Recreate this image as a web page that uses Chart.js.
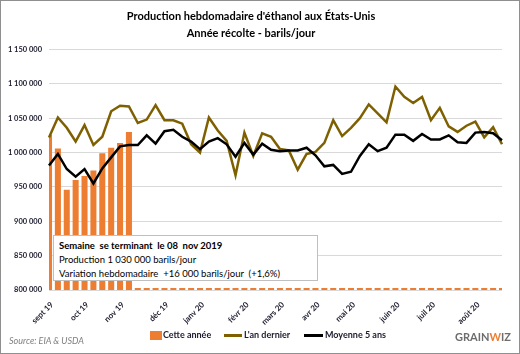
<!DOCTYPE html>
<html lang="fr">
<head>
<meta charset="utf-8">
<script src="https://cdn.jsdelivr.net/npm/chart.js@4.4.1/dist/chart.umd.min.js"></script>
<style>
  body { margin: 0; background: #fff; }
  #wrap { position: relative; width: 520px; height: 354px; font-family: Lato, 'Open Sans', sans-serif; }
  #chart { position: absolute; left: 0; top: 0; }
  #cadre { position: absolute; left: 0; top: 0; width: 520px; height: 354px; box-sizing: border-box; border: 1px solid #8f8f8f; pointer-events: none; }
  #encadre { position: absolute; left: 53px; top: 235px; width: 265px; height: 46px; box-sizing: border-box; background: #fff; border: 1px solid #bfbfbf; padding: 3px 0 0 5px; font-size: 9.5px; line-height: 14px; color: #000; white-space: pre; }
  #encadre b { font-weight: bold; }
  .leg { position: absolute; top: 329px; font-size: 9px; font-weight: bold; color: #1b1b2e; line-height: 12px; white-space: nowrap; }
  .sw { position: absolute; }
  #source { position: absolute; left: 9px; top: 335px; font-size: 9px; font-style: italic; color: #7f7f7f; }
  #logo { position: absolute; left: 455px; top: 330px; font-size: 11px; font-weight: bold; color: #6d6d6d; letter-spacing: 0; }
  #logo span { color: #ed7d31; }
</style>
</head>
<body>
<div id="wrap">
  <canvas id="chart" width="520" height="354"></canvas>
  <div id="encadre"><b>Semaine  se terminant  le 08  nov 2019</b>
Production 1 030 000 barils/jour
Variation hebdomadaire  +16 000 barils/jour  (+1,6%)</div>
  <div class="sw" style="left:150px;top:331px;width:12px;height:9px;background:#ed7d31"></div>
  <div class="leg" style="left:163px">Cette année</div>
  <div class="sw" style="left:224px;top:334px;width:18px;height:2.5px;background:#7f6000"></div>
  <div class="leg" style="left:244px">L'an dernier</div>
  <div class="sw" style="left:304px;top:334px;width:19px;height:2.5px;background:#000"></div>
  <div class="leg" style="left:325px">Moyenne 5 ans</div>
  <div id="source">Source: EIA &amp; USDA</div>
  <div id="logo">GRAIN<span>W</span>IZ</div>
  <div id="cadre"></div>
</div>
<script>
// semaines se terminant le vendredi
const semaines = [
  '2019-09-06', '2019-09-13', '2019-09-20', '2019-09-27',
  '2019-10-04', '2019-10-11', '2019-10-18', '2019-10-25',
  '2019-11-01', '2019-11-08', '2019-11-15', '2019-11-22', '2019-11-29',
  '2019-12-06', '2019-12-13', '2019-12-20', '2019-12-27',
  '2020-01-03', '2020-01-10', '2020-01-17', '2020-01-24', '2020-01-31',
  '2020-02-07', '2020-02-14', '2020-02-21', '2020-02-28',
  '2020-03-06', '2020-03-13', '2020-03-20', '2020-03-27',
  '2020-04-03', '2020-04-10', '2020-04-17', '2020-04-24',
  '2020-05-01', '2020-05-08', '2020-05-15', '2020-05-22', '2020-05-29',
  '2020-06-05', '2020-06-12', '2020-06-19', '2020-06-26',
  '2020-07-03', '2020-07-10', '2020-07-17', '2020-07-24', '2020-07-31',
  '2020-08-07', '2020-08-14', '2020-08-21', '2020-08-28'
];

const mois = ['sept 19', 'oct 19', 'nov 19', 'déc 19', 'janv 20', 'févr 20',
  'mars 20', 'avr 20', 'mai 20', 'juin 20', 'juil 20', 'août 20'];

// barils/jour ; semaines à venir : trait au ras de l'axe
const cetteAnnee = [
  1026000, 1006000, 946000, 960000, 966000, 974000, 999000, 1007000, 1014000, 1030000,
  803000, 803000, 803000, 803000, 803000, 803000, 803000, 803000, 803000, 803000,
  803000, 803000, 803000, 803000, 803000, 803000, 803000, 803000, 803000, 803000,
  803000, 803000, 803000, 803000, 803000, 803000, 803000, 803000, 803000, 803000,
  803000, 803000, 803000, 803000, 803000, 803000, 803000, 803000, 803000, 803000,
  803000, 803000
];

const anDernier = [
  1022000, 1051000, 1036000, 1016000, 1040000, 1011000, 1023000, 1060000, 1068000, 1067000,
  1043000, 1048000, 1069000, 1047000, 1047000, 1042000, 1012000, 1000000, 1051000, 1032000,
  1017000, 967000, 1029000, 995000, 1028000, 1023000, 1005000, 1003000, 975000, 998000,
  1001000, 1014000, 1047000, 1024000, 1036000, 1050000, 1070000, 1057000, 1044000, 1096000,
  1081000, 1072000, 1081000, 1047000, 1065000, 1038000, 1030000, 1039000, 1045000, 1022000,
  1037000, 1012000
];

const moyenne5ans = [
  981000, 998000, 976000, 965000, 976000, 955000, 977000, 993000, 1009000, 1011000,
  1011000, 1025000, 1013000, 1031000, 1033000, 1023000, 1016000, 1005000, 1016000, 1021000,
  1012000, 994000, 1014000, 997000, 1013000, 1004000, 1002000, 1003000, 1003000, 1007000,
  996000, 980000, 982000, 969000, 972000, 995000, 1012000, 1002000, 1007000, 1026000,
  1026000, 1017000, 1027000, 1019000, 1019000, 1025000, 1015000, 1014000, 1029000, 1030000,
  1028000, 1018000
];

const fmt = v => String(v).replace(/\B(?=(\d{3})+(?!\d))/g, ' ');

function moisLabel(i) {
  const m = semaines[i].slice(0, 7);
  if (i > 0 && semaines[i - 1].slice(0, 7) === m) return '';
  const idx = (Number(m.slice(0, 4)) - 2019) * 12 + Number(m.slice(5, 7)) - 9;
  return mois[idx];
}

const tickFont = { family: 'Lato', size: 8, weight: 'bold' };

new Chart(document.getElementById('chart'), {
  type: 'bar',
  data: {
    labels: semaines,
    datasets: [
      {
        label: 'Moyenne 5 ans',
        type: 'line',
        data: moyenne5ans,
        borderColor: '#000000',
        borderWidth: 2.5,
        pointRadius: 0,
        tension: 0,
        order: 1
      },
      {
        label: "L'an dernier",
        type: 'line',
        data: anDernier,
        borderColor: '#7f6000',
        borderWidth: 2.5,
        pointRadius: 0,
        tension: 0,
        order: 2
      },
      {
        label: 'Cette année',
        data: cetteAnnee,
        backgroundColor: '#ed7d31',
        categoryPercentage: 1,
        barPercentage: 0.68,
        clip: 0,
        order: 3
      }
    ]
  },
  options: {
    responsive: false,
    animation: false,
    layout: { padding: { left: 0, right: 18, top: 0, bottom: 24 } },
    plugins: {
      legend: { display: false },
      tooltip: { enabled: false },
      title: {
        display: true,
        text: ["Production hebdomadaire d'éthanol aux États-Unis", 'Année récolte - barils/jour'],
        color: '#000',
        font: { family: 'Lato', size: 11, weight: 'bold', lineHeight: 1.52 },
        padding: { top: 8, bottom: 8 }
      }
    },
    scales: {
      x: {
        offset: false,
        grid: { display: false },
        border: { display: false },
        ticks: {
          autoSkip: false,
          maxRotation: 45,
          minRotation: 45,
          font: tickFont,
          color: '#1b1b2e',
          padding: 2,
          labelOffset: 3,
          callback: (v, i) => moisLabel(i)
        },
        afterFit: s => { s.height = 40; }
      },
      y: {
        min: 800000,
        max: 1150000,
        grid: { color: '#d9d9d9', lineWidth: 1, drawTicks: false },
        border: { display: false },
        ticks: {
          stepSize: 50000,
          font: { family: 'Lato', size: 7.5, weight: 'bold' },
          color: '#1b1b2e',
          padding: 7,
          callback: v => fmt(v)
        },
        afterFit: s => { s.width = 49; }
      }
    }
  }
});
</script>
</body>
</html>
